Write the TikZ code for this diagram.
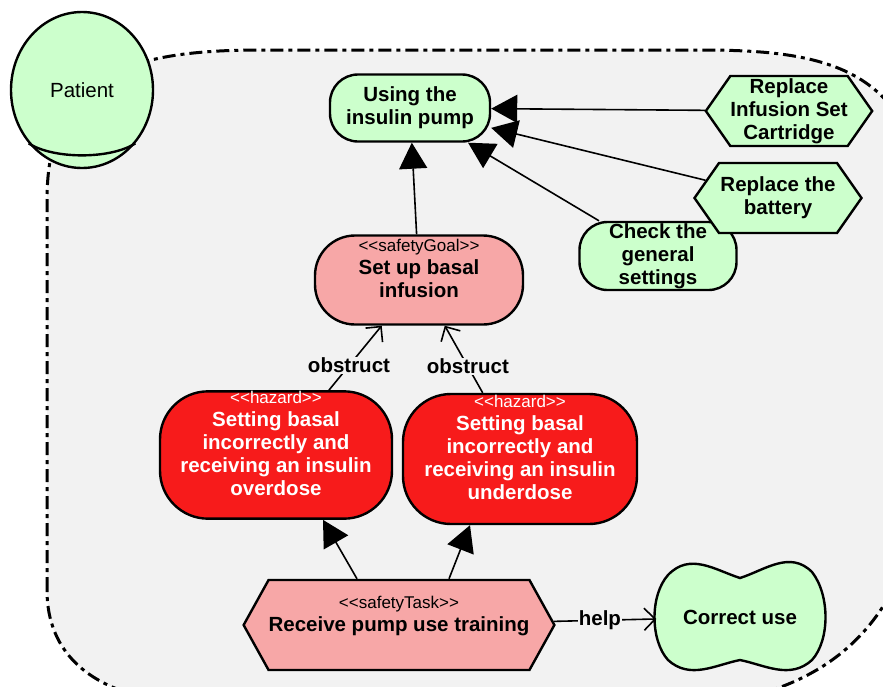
\documentclass[tikz,border=0pt]{standalone}
\usepackage{fontspec}
\setmainfont{Liberation Sans}
\usetikzlibrary{arrows.meta, shapes.geometric, shapes.symbols}
\definecolor{goalgreen}{HTML}{CCFFCC}
\definecolor{safepink}{HTML}{F7A7A7}
\definecolor{hazred}{HTML}{F71B1B}
\definecolor{bndgray}{HTML}{F2F2F2}
\newcommand{\stype}[1]{{\fontsize{17}{18}\selectfont\mdseries <\kern0pt<#1>\kern0pt>}}
\newcommand{\lift}{\\\mbox{}}

\begin{document}
\begin{tikzpicture}[x=1pt, y=-1pt,
        font=\fontsize{20.5}{23}\selectfont\bfseries,
        softbox/.style={draw, line width=2.4pt, fill=goalgreen, rounded corners=28pt, align=center, inner sep=0pt},
        taskhex/.style={signal, signal to=west and east, signal pointer angle=110, draw, line width=2.4pt, fill=goalgreen, align=center, inner sep=0pt},
        hazbox/.style={softbox, fill=hazred, text=white, rounded corners=48pt},
        boundary/.style={draw, fill=bndgray, line width=3pt, dash pattern=on 13pt off 5pt on 4pt off 5pt},
        link/.style={line width=1.6pt, -{Triangle[length=26pt,width=28pt]}},
        openlink/.style={line width=1.6pt, -{Straight Barb[length=11pt,width=22pt]}},
        lbl/.style={fill=bndgray, inner sep=1pt}]
    % Rahmen
    \useasboundingbox (0,0) rectangle (883,686);
    \clip (0,0) rectangle (883,686);
    \fill[white] (0,0) rectangle (883,686);
    \path[boundary] (47,590) -- (47,200) .. controls (47,80) and (120,50) .. (260,50) -- (700,50)
        .. controls (820,50) and (910,65) .. (925,200) -- (925,450)
        .. controls (920,600) and (850,690) .. (700,705) -- (200,705)
        .. controls (100,700) and (47,660) .. (47,590) -- cycle;
    % Akteur
    \node[ellipse, draw, line width=2.4pt, fill=goalgreen, minimum width=142pt, minimum height=156pt,
        font=\fontsize{20.5}{23}\selectfont\mdseries] (patient) at (82,90) {Patient};
    \draw[line width=2.4pt] (patient.225) .. controls +(25,16) and +(-25,16) .. (patient.315);
    % Ziele und Aufgaben
    \node[softbox, minimum width=160pt, minimum height=67pt] (using) at (410,108) {Using the\\insulin pump};
    \node[taskhex, minimum width=162pt, minimum height=70pt] (cart) at (789,111) {Replace\\Infusion Set\\Cartridge};
    \node[softbox, minimum width=157pt, minimum height=68pt] (check) at (658,256) {Check the\\general\\settings};
    \node[taskhex, minimum width=167pt, minimum height=70pt] (batt) at (778,198) {Replace the\\battery};
    \node[softbox, fill=safepink, rounded corners=40pt, minimum width=208pt, minimum height=89pt] (setup) at (419,280)
        {\stype{safetyGoal}\\Set up basal\\infusion\lift};
    % Gefahren
    \node[hazbox, minimum width=232pt, minimum height=119pt] (over) at (276,455)
        {\stype{hazard}\\Setting basal\\incorrectly and\\receiving an insulin\\overdose\lift};
    \node[hazbox, minimum width=234pt, minimum height=130pt] (under) at (520,459)
        {\stype{hazard}\\Setting basal\\incorrectly and\\receiving an insulin\\underdose\lift};
    \node[taskhex, fill=safepink, signal pointer angle=122, minimum width=302pt, minimum height=90pt] (train) at (399,625)
        {\stype{safetyTask}\\Receive pump use training\lift};
    % Softgoal
    \draw[line width=2.4pt, fill=goalgreen] (668,575) .. controls (690,552) and (715,570) .. (740,578)
        .. controls (765,570) and (790,550) .. (812,572) .. controls (830,595) and (830,640) .. (812,660)
        .. controls (790,680) and (765,665) .. (740,660) .. controls (715,665) and (690,680) .. (668,660)
        .. controls (650,640) and (650,595) .. (668,575) -- cycle;
    \node[minimum width=167pt, minimum height=110pt, inner sep=0pt] (correct) at (740,617) {Correct use};
    % Verbindungen
    \foreach \s in {cart,batt,check} \draw[link] (\s) -- (using);
    \draw[link] (setup) -- (using);
    \draw[link] ([xshift=-42pt]train.north) -- ([xshift=47pt]over.south);
    \draw[link] ([xshift=50pt]train.north) -- ([xshift=-50pt]under.south);
    \draw[openlink] (over) -- node[lbl, pos=.38] {obstruct} (setup);
    \draw[openlink] (under) -- node[lbl, pos=.39] {obstruct} (setup);
    \draw[openlink] (train) -- node[lbl, pos=.45] {help} (correct);
\end{tikzpicture}
\end{document}
